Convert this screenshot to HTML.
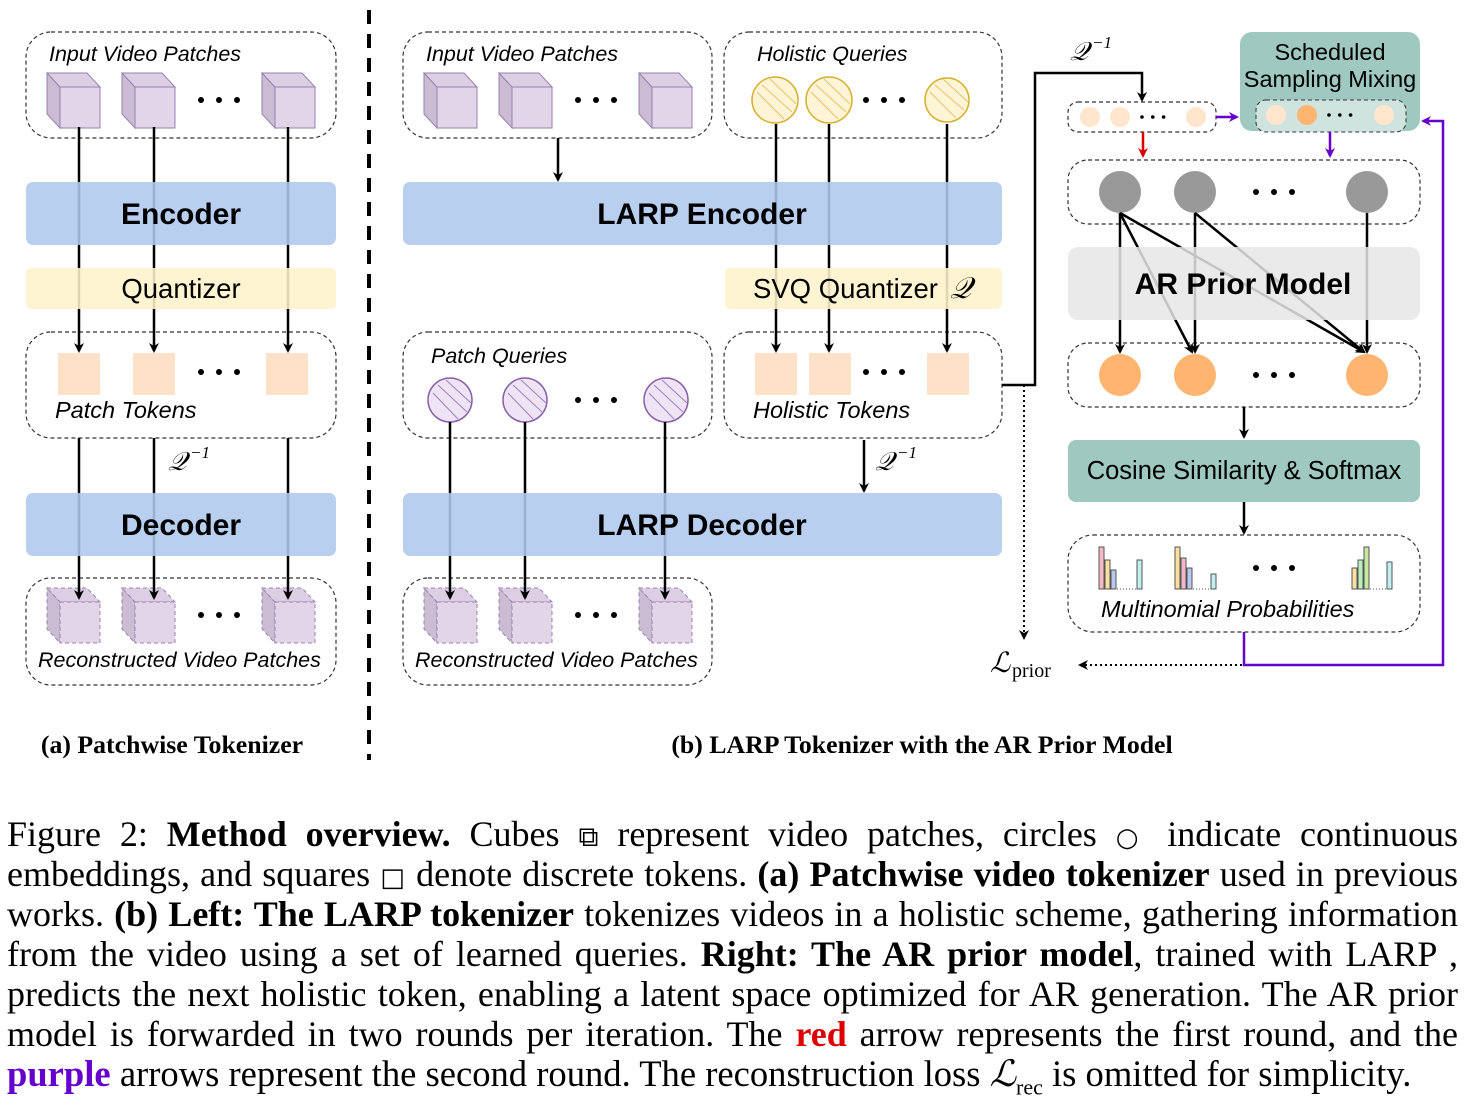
<!DOCTYPE html>
<html><head><meta charset="utf-8"><style>
body{margin:0;width:1464px;height:1108px;background:#fff;overflow:hidden;position:relative;font-family:"Liberation Sans",sans-serif}
svg{position:absolute;left:0;top:0}
.cap{position:absolute;left:7px;width:1451px;font-family:"Liberation Serif",serif;font-size:36px;line-height:40px;text-align:justify;text-align-last:justify;white-space:nowrap}
.cap.last{text-align-last:left;font-size:36.6px}
.L{font-style:italic;font-family:"Liberation Serif",serif}
</style></head><body>
<svg width="1464" height="780" viewBox="0 0 1464 780">
<defs>
<marker id="ah" markerWidth="10" markerHeight="10" refX="8" refY="5" orient="auto" markerUnits="userSpaceOnUse"><path d="M0,0 L10,5 L0,10 L3,5z" fill="#000"/></marker>
<marker id="ahr" markerWidth="10" markerHeight="10" refX="8" refY="5" orient="auto" markerUnits="userSpaceOnUse"><path d="M0,0 L10,5 L0,10 L3,5z" fill="#d00"/></marker>
<marker id="ahp" markerWidth="10" markerHeight="10" refX="8" refY="5" orient="auto" markerUnits="userSpaceOnUse"><path d="M0,0 L10,5 L0,10 L3,5z" fill="#6600cc"/></marker>
<g id="cube"><polygon points="0,0 13,14 13,55 0,41" fill="#cbbbd3" stroke="#9a80b0"/><polygon points="0,0 40,0 53,14 13,14" fill="#dccfe4" stroke="#9a80b0"/><rect x="13" y="14" width="40" height="41" fill="#e1d5e7" stroke="#9a80b0"/></g>
<g id="rcube"><polygon points="0,0 13,14 13,55 0,41" fill="#cbbbd3" stroke="#9a80b0" stroke-dasharray="4,3"/><polygon points="0,0 40,0 53,14 13,14" fill="#dccfe4" stroke="#9a80b0" stroke-dasharray="4,3"/><rect x="13" y="14" width="40" height="41" fill="#e1d5e7" stroke="#9a80b0" stroke-dasharray="4,3"/></g>
<g id="dots"><circle cx="0" cy="0" r="3"/><circle cx="18" cy="0" r="3"/><circle cx="36" cy="0" r="3"/></g>
</defs>
<g fill="none" stroke="#333" stroke-dasharray="4,3" stroke-width="1.2">
<rect x="26" y="32" width="310" height="106" rx="25"/>
<rect x="26" y="332" width="310" height="106" rx="25"/>
<rect x="26" y="578" width="310" height="107" rx="25"/>
<rect x="403" y="32" width="309" height="106" rx="25"/>
<rect x="724" y="32" width="278" height="106" rx="25"/>
<rect x="403" y="332" width="309" height="106" rx="25"/>
<rect x="724" y="332" width="278" height="106" rx="25"/>
<rect x="403" y="578" width="309" height="107" rx="25"/>
<rect x="1068" y="102" width="148" height="30" rx="10"/>
<rect x="1068" y="160" width="352" height="64" rx="20"/>
<rect x="1068" y="343" width="352" height="64" rx="20"/>
<rect x="1068" y="535" width="352" height="97" rx="25"/>
</g>
<line x1="369" y1="10" x2="369" y2="760" stroke="#000" stroke-width="4" stroke-dasharray="14,10"/>
<use href="#cube" x="47" y="73"/><use href="#cube" x="122" y="73"/><use href="#cube" x="262" y="73"/>
<use href="#cube" x="424" y="73"/><use href="#cube" x="499" y="73"/><use href="#cube" x="639" y="73"/>
<use href="#rcube" x="47" y="588"/><use href="#rcube" x="122" y="588"/><use href="#rcube" x="262" y="588"/>
<use href="#rcube" x="424" y="588"/><use href="#rcube" x="499" y="588"/><use href="#rcube" x="639" y="588"/>
<use href="#dots" x="201" y="100"/><use href="#dots" x="578" y="100"/><use href="#dots" x="866" y="100"/>
<use href="#dots" x="201" y="615"/><use href="#dots" x="578" y="615"/>
<use href="#dots" x="201" y="372"/><use href="#dots" x="866" y="372"/><use href="#dots" x="578" y="400"/>
<g fill="#ffe1c8"><rect x="58" y="353" width="42" height="42"/><rect x="133" y="353" width="42" height="42"/><rect x="266" y="353" width="42" height="42"/>
<rect x="755" y="353" width="42" height="42"/><rect x="809" y="353" width="42" height="42"/><rect x="927" y="353" width="42" height="42"/></g>
<g fill="#fff4d6" stroke="#d6b030" stroke-width="1.5"><circle cx="775" cy="100" r="23"/><circle cx="829" cy="100" r="23"/><circle cx="947" cy="100" r="22"/></g>
<g stroke="#e0b850" stroke-width="1" opacity=".8"><path d="M757,92 L784,119 M762,85 L792,112 M770,79 L796,104 M811,92 L838,119 M816,85 L846,112 M824,79 L850,104 M930,92 L956,118 M935,85 L964,110 M943,79 L968,102"/></g>
<g fill="#efe4f5" stroke="#8a60a8" stroke-width="1.5"><circle cx="450" cy="400" r="22"/><circle cx="525" cy="400" r="22"/><circle cx="666" cy="400" r="22"/></g>
<g stroke="#a080c0" stroke-width="1"><path d="M433,393 L458,419 M438,385 L467,412 M446,380 L471,403 M508,393 L533,419 M513,385 L542,412 M521,380 L546,403 M649,393 L674,419 M654,385 L683,412 M662,380 L687,403"/></g>
<g stroke="#000" stroke-width="2.5" marker-end="url(#ah)" fill="none">
<line x1="79" y1="127" x2="79" y2="351"/><line x1="154" y1="127" x2="154" y2="351"/><line x1="288" y1="127" x2="288" y2="351"/>
<line x1="79" y1="438" x2="79" y2="598"/><line x1="154" y1="438" x2="154" y2="598"/><line x1="288" y1="438" x2="288" y2="598"/>
<line x1="558" y1="138" x2="558" y2="180"/>
<line x1="776" y1="124" x2="776" y2="351"/><line x1="829" y1="124" x2="829" y2="351"/><line x1="947" y1="124" x2="947" y2="351"/>
<line x1="450" y1="422" x2="450" y2="598"/><line x1="525" y1="422" x2="525" y2="598"/><line x1="665" y1="422" x2="665" y2="598"/>
<line x1="864" y1="440" x2="864" y2="491"/>
<polyline points="1002,385 1035,385 1035,73 1142,73 1142,100"/>
<line x1="1244" y1="407" x2="1244" y2="437"/>
<line x1="1244" y1="502" x2="1244" y2="533"/>
</g>
<g fill-opacity="0.88">
<rect x="26" y="182" width="310" height="63" rx="7" fill="#aec8ee"/>
<rect x="26" y="268" width="310" height="41" rx="5" fill="#fff2cc"/>
<rect x="26" y="493" width="310" height="63" rx="7" fill="#aec8ee"/>
<rect x="403" y="182" width="599" height="63" rx="7" fill="#aec8ee"/>
<rect x="725" y="268" width="277" height="41" rx="5" fill="#fff2cc"/>
<rect x="403" y="493" width="599" height="63" rx="7" fill="#aec8ee"/>
</g>
<g font-weight="bold" font-size="30" text-anchor="middle" fill="#000">
<text x="181" y="224">Encoder</text><text x="181" y="535">Decoder</text>
<text x="702" y="224">LARP Encoder</text><text x="702" y="535">LARP Decoder</text>
</g>
<g font-size="27.5"><text x="181" y="298" text-anchor="middle">Quantizer</text><text x="753" y="298">SVQ Quantizer</text></g>
<text x="950" y="298" font-family="Liberation Serif,serif" font-style="italic" font-size="30">𝒬</text>
<g font-style="italic" font-size="21.5">
<text x="49" y="61">Input Video Patches</text><text x="426" y="61">Input Video Patches</text><text x="757" y="61">Holistic Queries</text>
<text x="431" y="363">Patch Queries</text>
<text x="38" y="667">Reconstructed Video Patches</text><text x="415" y="667">Reconstructed Video Patches</text>
</g>
<g font-style="italic" font-size="23.5">
<text x="55" y="418">Patch Tokens</text><text x="753" y="418">Holistic Tokens</text>
<text x="1101" y="617">Multinomial Probabilities</text>
</g>
<g font-family="Liberation Serif,serif" font-style="italic" font-size="26"><text x="168" y="470">𝒬</text><text x="875" y="470">𝒬</text><text x="1070" y="60">𝒬</text></g>
<g font-family="Liberation Serif,serif" font-style="italic" font-size="17"><text x="190" y="458">−1</text><text x="897" y="458">−1</text><text x="1092" y="48">−1</text></g>
<g fill="#ffe6cc"><circle cx="1090" cy="117" r="10"/><circle cx="1120" cy="117" r="10"/><circle cx="1196" cy="117" r="10"/></g>
<g transform="translate(1142,117) scale(0.6)"><use href="#dots"/></g>
<rect x="1240" y="32" width="180" height="99" rx="12" fill="#9ec8c0"/>
<rect x="1256" y="100" width="150" height="32" rx="10" fill="#cfe3df" stroke="#333" stroke-dasharray="4,3"/>
<circle cx="1276" cy="115" r="10" fill="#ffe6cc"/><circle cx="1307" cy="115" r="10" fill="#ffb570"/><circle cx="1384" cy="115" r="10" fill="#ffe6cc"/>
<g transform="translate(1329,115) scale(0.6)"><use href="#dots"/></g>
<g font-size="23.5" text-anchor="middle"><text x="1330" y="60">Scheduled</text><text x="1330" y="87">Sampling Mixing</text></g>
<line x1="1143" y1="132" x2="1143" y2="156" stroke="#d00" stroke-width="2.5" marker-end="url(#ahr)"/>
<line x1="1330" y1="132" x2="1330" y2="156" stroke="#6600cc" stroke-width="2.5" marker-end="url(#ahp)"/>
<line x1="1216" y1="117" x2="1237" y2="117" stroke="#6600cc" stroke-width="2.5" marker-end="url(#ahp)"/>
<polyline points="1244,632 1244,665 1443,665 1443,121 1423,121" fill="none" stroke="#6600cc" stroke-width="2.5" marker-end="url(#ahp)"/>
<g fill="#999"><circle cx="1120" cy="192" r="21"/><circle cx="1195" cy="192" r="21"/><circle cx="1367" cy="192" r="21"/></g>
<use href="#dots" x="1256" y="192"/>
<g stroke="#000" stroke-width="2.5" fill="none" marker-end="url(#ah)">
<line x1="1120" y1="213" x2="1120" y2="352"/><line x1="1195" y1="213" x2="1195" y2="352"/><line x1="1367" y1="213" x2="1367" y2="352"/>
<line x1="1120" y1="213" x2="1192" y2="352"/><line x1="1120" y1="213" x2="1364" y2="352"/><line x1="1195" y1="213" x2="1364" y2="352"/>
</g>
<rect x="1068" y="247" width="352" height="73" rx="10" fill="#e6e6e6" fill-opacity="0.85"/>
<text x="1243" y="294" font-size="30" font-weight="bold" text-anchor="middle">AR Prior Model</text>
<g fill="#ffb570"><circle cx="1120" cy="375" r="21"/><circle cx="1195" cy="375" r="21"/><circle cx="1367" cy="375" r="21"/></g>
<use href="#dots" x="1256" y="375"/>
<rect x="1068" y="440" width="352" height="62" rx="8" fill="#9ec8c0"/>
<text x="1244" y="479" font-size="25.5" text-anchor="middle">Cosine Similarity &amp; Softmax</text>
<g stroke="#555" stroke-width="1">
<rect x="1099" y="547" width="5" height="42" fill="#f4b8c8"/><rect x="1105" y="560" width="5" height="29" fill="#f8e0a0"/><rect x="1111" y="570" width="5" height="19" fill="#b8c8f0"/><rect x="1137" y="560" width="5" height="29" fill="#c0f0f0"/>
<rect x="1175" y="547" width="5" height="42" fill="#f8e0a0"/><rect x="1181" y="558" width="5" height="31" fill="#f4b8c8"/><rect x="1187" y="568" width="5" height="21" fill="#b8c8f0"/><rect x="1211" y="574" width="5" height="15" fill="#c0f0f0"/>
<rect x="1352" y="568" width="5" height="21" fill="#f8e0a0"/><rect x="1358" y="560" width="5" height="29" fill="#b8f0c0"/><rect x="1364" y="547" width="5" height="42" fill="#c8e8a0"/><rect x="1387" y="562" width="5" height="27" fill="#c0f0f0"/>
</g>
<g stroke="#555" stroke-width="1" stroke-dasharray="1,2"><line x1="1117" y1="589" x2="1137" y2="589"/><line x1="1193" y1="589" x2="1211" y2="589"/><line x1="1370" y1="589" x2="1387" y2="589"/></g>
<use href="#dots" x="1256" y="568"/>
<g stroke="#000" stroke-width="2" stroke-dasharray="2,3" fill="none" marker-end="url(#ah)">
<line x1="1024" y1="385" x2="1024" y2="638"/>
<line x1="1242" y1="665" x2="1080" y2="665"/>
</g>
<text x="990" y="672" font-family="Liberation Serif,serif" font-style="italic" font-size="28">ℒ</text>
<text x="1012" y="677" font-family="Liberation Serif,serif" font-size="20">prior</text>
<g font-family="Liberation Serif,serif" font-weight="bold" font-size="25.8" text-anchor="middle">
<text x="172" y="753">(a) Patchwise Tokenizer</text><text x="922" y="753">(b) LARP Tokenizer with the AR Prior Model</text></g>
</svg>
<div class="cap" style="top:814px">Figure 2: <b>Method overview.</b> Cubes <span style="font-family:'DejaVu Sans';font-size:28px">⧉</span> represent video patches, circles <span style="font-family:'DejaVu Sans';font-size:26px">○</span> indicate continuous</div>
<div class="cap" style="top:854px">embeddings, and squares <span style="font-family:'DejaVu Sans';font-size:26px">□</span> denote discrete tokens. <b>(a) Patchwise video tokenizer</b> used in previous</div>
<div class="cap" style="top:894px">works. <b>(b) Left: The LARP tokenizer</b> tokenizes videos in a holistic scheme, gathering information</div>
<div class="cap" style="top:934px">from the video using a set of learned queries. <b>Right: The AR prior model</b>, trained with LARP ,</div>
<div class="cap" style="top:974px">predicts the next holistic token, enabling a latent space optimized for AR generation. The AR prior</div>
<div class="cap" style="top:1014px">model is forwarded in two rounds per iteration. The <b style="color:#d00">red</b> arrow represents the first round, and the</div>
<div class="cap last" style="top:1054px"><b style="color:#6600cc">purple</b> arrows represent the second round. The reconstruction loss <span class="L">ℒ</span><sub style="font-size:22px">rec</sub> is omitted for simplicity.</div>
</body></html>
